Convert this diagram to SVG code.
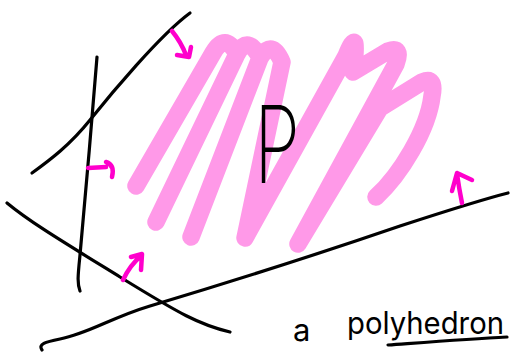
<svg xmlns="http://www.w3.org/2000/svg" width="513" height="354" viewBox="0 0 513 354">
<style>
.ink{fill:none;stroke:#000;stroke-width:3.2;stroke-linecap:round;stroke-linejoin:round}
.mag{fill:none;stroke:#ff00cc;stroke-width:4.5;stroke-linecap:round;stroke-linejoin:round}
.fillp{fill:none;stroke:#ff99e8;stroke-width:17.5;stroke-linecap:round;stroke-linejoin:round}
.hand{font-family:Inter,"Liberation Sans",sans-serif;fill:#000}
</style>
<rect width="513" height="354" fill="#fff"/>
<g id="polyhedron-fill">
<path class="fillp" d="M136,186 L213,53 Q225,32 237,54 L156,222 L237,54 Q248,34 260,58 L191,237 L260,58 Q272,38 282,62 L245,238 L346,56 Q360,22 353,72 L388,51 Q403,46 396,64 L298,244 L380,108 L422,82 Q436,76 432,96 C428,130 400,175 376,197"/>
</g>
<g id="halfplanes">
<path class="ink" d="M32,173 C50,160 70,145 90,120 S160,35 190,13"/>
<path class="ink" d="M97,57 C93,110 84,210 80,255 C78,275 77,283 80,291"/>
<path class="ink" d="M7,203 C30,222 60,240 120,277 S200,325 230,332"/>
<path class="ink" d="M42,350 C38,344 45,342 60,339 C90,333 110,318 150,306 C220,285 330,250 400,226 C440,213 480,200 508,193"/>
</g>
<g id="normals">
<path class="mag" d="M172,31 Q181,42 186,55 M177,55 L189,57 L191,47"/>
<path class="mag" d="M88,168 L106,167 M106,162 Q115,165 112,177"/>
<path class="mag" d="M123,280 Q130,265 141,256 M131,257 L142,254 L141,270"/>
<path class="mag" d="M462,203 Q459,188 457,174 M452,191 L457,173 L472,180"/>
</g>
<g id="label-P">
<text class="hand" x="254" y="183" font-size="107" font-weight="200" textLength="46" lengthAdjust="spacingAndGlyphs">P</text>
</g>
<g id="caption">
<text class="hand" font-size="31" font-weight="400"><tspan x="293" y="341">a</tspan><tspan x="347" y="334" textLength="157" lengthAdjust="spacingAndGlyphs">polyhedron</tspan></text>
<path class="ink" d="M388,345 C430,342 470,339 507,337"/>
</g>
</svg>
